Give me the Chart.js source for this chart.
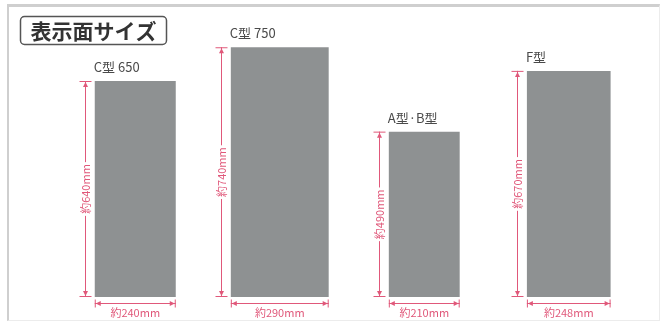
<!DOCTYPE html>
<html>
<head>
<meta charset="utf-8">
<script src="https://cdn.jsdelivr.net/npm/chart.js@4"></script>
<style>
  body { margin: 0; background: #fff; }
  #wrap { position: relative; width: 663px; height: 327px; }
  #frame {
    position: absolute; left: 7px; top: 4px; width: 650px; height: 313px;
    border-top: 3px solid #cfcfcf; border-left: 2px solid #cfcfcf;
    border-right: 1px solid #ececec; border-bottom: 1px solid #ececec;
    pointer-events: none;
  }
</style>
</head>
<body>
<div id="wrap">
  <canvas id="sizeChart" width="663" height="327"></canvas>
  <div id="frame"></div>
</div>
<script>
const titleText = '表示面サイズ';
const categories = ['C型 650', 'C型 750', 'A型·B型', 'F型'];
const heightsMm = [640, 740, 490, 670];
const widthsMm = [240, 290, 210, 248];

const W = 663, H = 327;
const padL = 63, padR = 22, padT = 27, padB = 30;
const yMax = 800;

// px per mm, so the bar widths follow the same scale as the heights
const pxPerMm = (H - padT - padB) / yMax;
const slotPx = (W - padL - padR) / categories.length;

const barColor = '#8e9192';
const dimColor = '#e0587a';

const datasets = categories.map((cat, i) => ({
    label: cat,
    data: heightsMm.map((h, j) => (j === i ? h : null)),
    backgroundColor: barColor,
    borderWidth: 0,
    categoryPercentage: 1,
    barPercentage: widthsMm[i] * pxPerMm / slotPx
}));

const dimensionPlugin = {
    id: 'dimensions',
    afterDatasetsDraw(chart) {
        const ctx = chart.ctx;
        ctx.save();

        // title box
        ctx.strokeStyle = '#555';
        ctx.lineWidth = 1.5;
        ctx.fillStyle = '#fff';
        ctx.beginPath();
        ctx.roundRect(20.5, 16.5, 146, 28, 4);
        ctx.fill();
        ctx.stroke();
        ctx.fillStyle = '#333';
        ctx.font = 'bold 21px "Noto Sans CJK JP"';
        ctx.textAlign = 'center';
        ctx.textBaseline = 'middle';
        ctx.fillText(titleText, 93.5, 31);

        chart.data.datasets.forEach((ds, i) => {
            const bar = chart.getDatasetMeta(i).data[i];
            const left = bar.x - bar.width / 2;
            const right = bar.x + bar.width / 2;
            const top = bar.y;
            const base = bar.base;

            // category label above the bar
            ctx.fillStyle = '#4a4a4a';
            ctx.font = '13px "Noto Sans CJK JP"';
            ctx.textAlign = 'left';
            ctx.textBaseline = 'middle';
            ctx.fillText(categories[i], left - 1, top - 14);

            ctx.strokeStyle = dimColor;
            ctx.lineWidth = 1;

            // vertical dimension line
            const vx = Math.round(left - 10) + 0.5;
            ctx.beginPath();
            ctx.moveTo(vx, top);
            ctx.lineTo(vx, base);
            ctx.moveTo(vx - 6, top + 0.5);
            ctx.lineTo(vx + 6, top + 0.5);
            ctx.moveTo(vx - 6, base - 0.5);
            ctx.lineTo(vx + 6, base - 0.5);
            ctx.stroke();
            ctx.fillStyle = dimColor;
            ctx.beginPath();
            ctx.moveTo(vx, top + 1); ctx.lineTo(vx - 2.5, top + 6); ctx.lineTo(vx + 2.5, top + 6); ctx.fill();
            ctx.beginPath();
            ctx.moveTo(vx, base - 1); ctx.lineTo(vx - 2.5, base - 6); ctx.lineTo(vx + 2.5, base - 6); ctx.fill();

            // vertical label
            const vLabel = '約' + heightsMm[i] + 'mm';
            ctx.save();
            ctx.translate(vx, (top + base) / 2);
            ctx.rotate(-Math.PI / 2);
            ctx.font = '11px "Noto Sans CJK JP"';
            const tw = ctx.measureText(vLabel).width;
            ctx.fillStyle = '#fff';
            ctx.fillRect(-tw / 2 - 2, -6, tw + 4, 12);
            ctx.fillStyle = dimColor;
            ctx.textAlign = 'center';
            ctx.textBaseline = 'middle';
            ctx.fillText(vLabel, 0, 0);
            ctx.restore();

            // horizontal dimension line
            const hy = Math.round(base + 6) + 0.5;
            ctx.strokeStyle = dimColor;
            ctx.beginPath();
            ctx.moveTo(left, hy);
            ctx.lineTo(right, hy);
            ctx.moveTo(left + 0.5, hy - 4);
            ctx.lineTo(left + 0.5, hy + 4);
            ctx.moveTo(right - 0.5, hy - 4);
            ctx.lineTo(right - 0.5, hy + 4);
            ctx.stroke();
            ctx.fillStyle = dimColor;
            ctx.beginPath();
            ctx.moveTo(left + 1, hy); ctx.lineTo(left + 6, hy - 2.5); ctx.lineTo(left + 6, hy + 2.5); ctx.fill();
            ctx.beginPath();
            ctx.moveTo(right - 1, hy); ctx.lineTo(right - 6, hy - 2.5); ctx.lineTo(right - 6, hy + 2.5); ctx.fill();

            ctx.font = '11px "Noto Sans CJK JP"';
            ctx.textAlign = 'center';
            ctx.textBaseline = 'middle';
            ctx.fillText('約' + widthsMm[i] + 'mm', bar.x, base + 16);
        });

        ctx.restore();
    }
};

const chart = new Chart(document.getElementById('sizeChart'), {
    type: 'bar',
    data: {
        labels: categories,
        datasets: datasets
    },
    options: {
        responsive: false,
        animation: false,
        layout: { padding: { left: padL, right: padR, top: padT, bottom: padB } },
        datasets: { bar: { grouped: false } },
        plugins: {
            legend: { display: false },
            tooltip: { enabled: false }
        },
        scales: {
            x: { display: false },
            y: { display: false, min: 0, max: yMax }
        }
    },
    plugins: [dimensionPlugin]
});
</script>
</body>
</html>
